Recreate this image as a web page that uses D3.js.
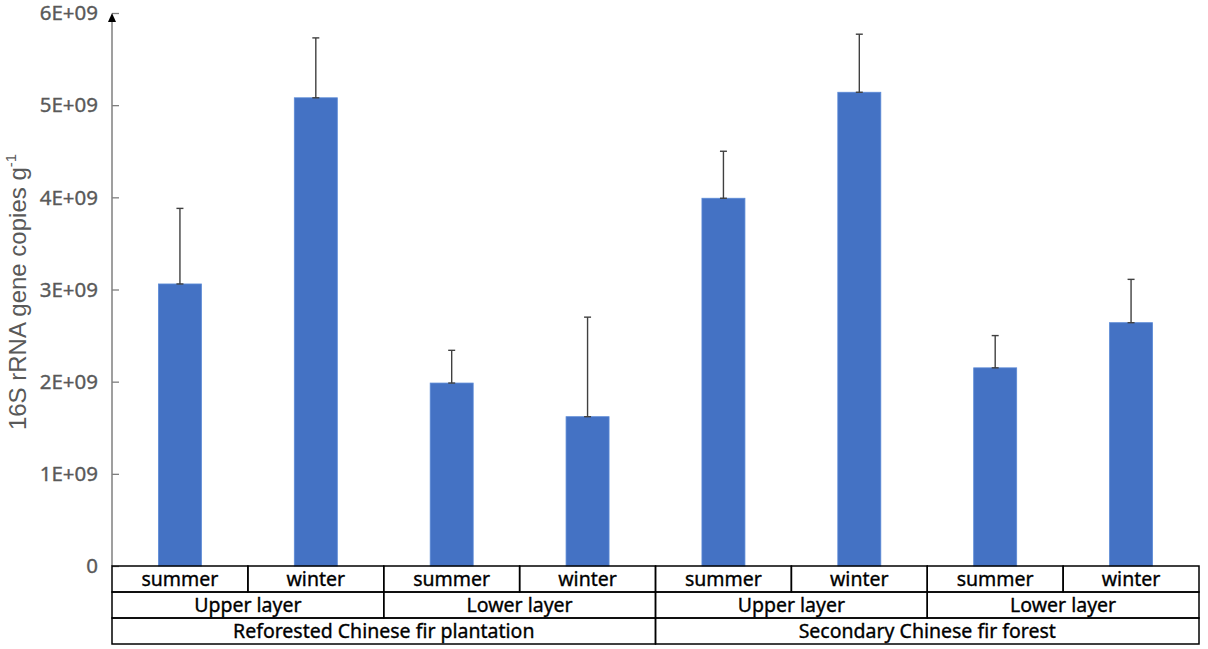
<!DOCTYPE html>
<html>
<head>
<meta charset="utf-8">
<script src="https://cdn.jsdelivr.net/npm/d3@7"></script>
<style>
  body { margin: 0; background: #fff; }
</style>
</head>
<body>
<div class="canvas"></div>
<script>
// data
const seasons = ["summer", "winter", "summer", "winter", "summer", "winter", "summer", "winter"];
const layers = ["Upper layer", "Lower layer", "Upper layer", "Lower layer"];
const stands = ["Reforested Chinese fir plantation", "Secondary Chinese fir forest"];
const means = [3.06e9, 5.08e9, 1.985e9, 1.62e9, 3.99e9, 5.14e9, 2.15e9, 2.64e9];
const errors = [0.82e9, 0.65e9, 0.355e9, 1.08e9, 0.51e9, 0.63e9, 0.35e9, 0.47e9];
const yTicks = [0, 1e9, 2e9, 3e9, 4e9, 5e9, 6e9];
const yTickLabels = ["0", "1E+09", "2E+09", "3E+09", "4E+09", "5E+09", "6E+09"];

const width = 1208;
const height = 649;
const margin = { top: 13, right: 9, bottom: 83, left: 112 };
const graphWidth = width - margin.left - margin.right;
const graphHeight = height - margin.top - margin.bottom;
const rowH = 26;

const svg = d3
  .select(".canvas")
  .append("svg")
  .attr("width", width)
  .attr("height", height);

const graph = svg
  .append("g")
  .attr("transform", `translate(${margin.left}, ${margin.top})`);

// scales
const x = d3.scaleBand().domain(d3.range(8)).range([0, graphWidth]).paddingInner(0).paddingOuter(0);
const y = d3.scaleLinear().domain([0, 6e9]).range([graphHeight, 0]);
const barW = 43;

// bars
graph
  .selectAll("rect.bar")
  .data(means)
  .enter()
  .append("rect")
  .attr("class", "bar")
  .attr("x", (d, i) => x(i) + x.bandwidth() / 2 - barW / 2)
  .attr("y", (d) => y(d))
  .attr("width", barW)
  .attr("height", (d) => graphHeight - y(d))
  .attr("fill", "#4472C4")
  .attr("stroke", "#5b8ad6")
  .attr("stroke-width", 0.8);

// error bars
const err = graph.selectAll("g.err").data(means).enter().append("g").attr("class", "err");
err
  .append("line")
  .attr("x1", (d, i) => x(i) + x.bandwidth() / 2)
  .attr("x2", (d, i) => x(i) + x.bandwidth() / 2)
  .attr("y1", (d) => y(d))
  .attr("y2", (d, i) => y(d + errors[i]))
  .attr("stroke", "#404040")
  .attr("stroke-width", 1.4);
err
  .append("line")
  .attr("x1", (d, i) => x(i) + x.bandwidth() / 2 - 3.5)
  .attr("x2", (d, i) => x(i) + x.bandwidth() / 2 + 3.5)
  .attr("y1", (d, i) => y(d + errors[i]))
  .attr("y2", (d, i) => y(d + errors[i]))
  .attr("stroke", "#404040")
  .attr("stroke-width", 1.4);
err
  .append("line")
  .attr("x1", (d, i) => x(i) + x.bandwidth() / 2 - 3.5)
  .attr("x2", (d, i) => x(i) + x.bandwidth() / 2 + 3.5)
  .attr("y1", (d) => y(d))
  .attr("y2", (d) => y(d))
  .attr("stroke", "#404040")
  .attr("stroke-width", 1.4);

// y axis
const yAxis = d3
  .axisRight(y)
  .tickValues(yTicks)
  .tickSize(7)
  .tickFormat(() => "");
const yAxisGroup = graph.append("g").call(yAxis);
yAxisGroup.select(".domain").remove();
yAxisGroup.selectAll("line").attr("stroke", "#7f7f7f").attr("stroke-width", 1.3);

graph
  .append("line")
  .attr("x1", 0)
  .attr("x2", 0)
  .attr("y1", graphHeight)
  .attr("y2", 8)
  .attr("stroke", "#7f7f7f")
  .attr("stroke-width", 1.5);
graph
  .append("path")
  .attr("d", "M0,0 L-4,9 L4,9 Z")
  .attr("fill", "#000");

graph
  .selectAll("text.ytick")
  .data(yTicks)
  .enter()
  .append("text")
  .attr("class", "ytick")
  .attr("x", -14)
  .attr("y", (d) => y(d))
  .attr("dy", "0.35em")
  .attr("text-anchor", "end")
  .attr("font-family", "'Noto Sans', sans-serif")
  .attr("font-size", 20.5)
  .attr("fill", "#595959")
  .attr("stroke", "#595959")
  .attr("stroke-width", 0.35)
  .text((d, i) => yTickLabels[i]);

// y label
const yLabel = svg
  .append("text")
  .attr("transform", `translate(26, 292) rotate(-90)`)
  .attr("text-anchor", "middle")
  .attr("font-family", "'Liberation Sans', Arial, sans-serif")
  .attr("font-size", 24)
  .attr("fill", "#595959");
yLabel.append("tspan").text("16S rRNA gene copies g");
yLabel.append("tspan").attr("dy", -10).attr("font-size", 15).text("-1");

// category table
const table = graph.append("g").attr("transform", `translate(0, ${graphHeight})`);
const drawRow = (labels, row) => {
  const span = graphWidth / labels.length;
  labels.forEach((lab, i) => {
    table
      .append("rect")
      .attr("x", i * span)
      .attr("y", row * rowH)
      .attr("width", span)
      .attr("height", rowH)
      .attr("fill", "none")
      .attr("stroke", "#000")
      .attr("stroke-width", 1.5);
    table
      .append("text")
      .attr("x", i * span + span / 2)
      .attr("y", row * rowH + rowH / 2)
      .attr("dy", "0.36em")
      .attr("text-anchor", "middle")
      .attr("font-family", "'Noto Sans', sans-serif")
      .attr("font-size", 19.5)
      .attr("fill", "#000")
      .attr("stroke", "#000")
      .attr("stroke-width", 0.35)
      .text(lab);
  });
};
drawRow(seasons, 0);
drawRow(layers, 1);
drawRow(stands, 2);
</script>
</body>
</html>
